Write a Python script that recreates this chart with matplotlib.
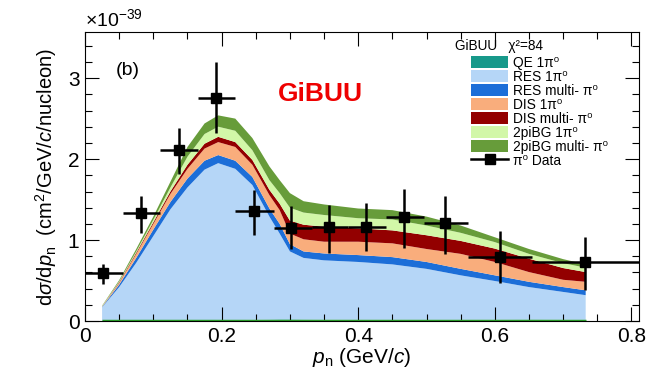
import numpy as np
import matplotlib
matplotlib.use("Agg")
import matplotlib.pyplot as plt
from matplotlib.patches import Patch
from matplotlib.lines import Line2D

plt.rcParams['font.family'] = ['Liberation Sans', 'DejaVu Sans']
plt.rcParams['mathtext.fontset'] = 'custom'
plt.rcParams['mathtext.rm'] = 'Liberation Sans'
plt.rcParams['mathtext.it'] = 'Liberation Sans:italic'
plt.rcParams['mathtext.bf'] = 'Liberation Sans:bold'

# GiBUU prediction, stacked by channel (x10^-39 cm2/GeV/c/nucleon)
pn = [0.025, 0.05, 0.075, 0.10, 0.125, 0.15, 0.175, 0.195, 0.22, 0.245, 0.27, 0.285,
      0.30, 0.32, 0.35, 0.40, 0.45, 0.50, 0.55, 0.60, 0.65, 0.70, 0.733]
qe_1pi = [0.005, 0.008, 0.010, 0.010, 0.012, 0.012, 0.012, 0.014, 0.014, 0.015, 0.018, 0.020,
          0.020, 0.018, 0.016, 0.015, 0.016, 0.015, 0.015, 0.016, 0.018, 0.016, 0.015]
res_1pi = [0.165, 0.412, 0.710, 1.040, 1.368, 1.638, 1.858, 1.936, 1.866, 1.665, 1.272, 1.060,
           0.840, 0.762, 0.734, 0.715, 0.684, 0.630, 0.550, 0.479, 0.402, 0.344, 0.305]
res_multi = [0.005, 0.030, 0.060, 0.080, 0.090, 0.110, 0.110, 0.100, 0.100, 0.100, 0.100, 0.120,
             0.090, 0.080, 0.085, 0.085, 0.090, 0.085, 0.080, 0.070, 0.065, 0.060, 0.060]
dis_1pi = [0.005, 0.020, 0.050, 0.070, 0.100, 0.120, 0.150, 0.160, 0.170, 0.150, 0.165, 0.170,
           0.130, 0.150, 0.145, 0.165, 0.170, 0.160, 0.185, 0.165, 0.120, 0.090, 0.105]
dis_multi = [0.000, 0.010, 0.015, 0.020, 0.030, 0.050, 0.060, 0.065, 0.060, 0.060, 0.065, 0.080,
             0.160, 0.180, 0.185, 0.165, 0.160, 0.170, 0.160, 0.165, 0.165, 0.145, 0.120]
bg_1pi = [0.005, 0.010, 0.015, 0.030, 0.050, 0.100, 0.120, 0.125, 0.140, 0.120, 0.120, 0.130,
          0.160, 0.150, 0.145, 0.125, 0.135, 0.120, 0.100, 0.080, 0.060, 0.060, 0.055]
bg_multi = [0.005, 0.015, 0.030, 0.040, 0.070, 0.120, 0.130, 0.140, 0.150, 0.150, 0.170, 0.160,
            0.180, 0.140, 0.130, 0.120, 0.115, 0.110, 0.090, 0.060, 0.060, 0.050, 0.040]

labels = ['QE 1π⁰', 'RES 1π⁰', 'RES multi- π⁰', 'DIS 1π⁰',
          'DIS multi- π⁰', '2piBG 1π⁰', '2piBG multi- π⁰']
colors = ['#17998a', '#b5d6f7', '#1c6ed8', '#f9ad7c', '#930000', '#d2f7a8', '#679c3a']

# pi0 data
data_x = [0.027, 0.082, 0.137, 0.192, 0.248, 0.302, 0.357, 0.412, 0.467, 0.527, 0.607, 0.732]
data_y = [0.59, 1.34, 2.11, 2.76, 1.36, 1.15, 1.16, 1.16, 1.28, 1.21, 0.79, 0.73]
data_hi = [0.71, 1.54, 2.39, 3.20, 1.62, 1.42, 1.43, 1.46, 1.63, 1.55, 1.11, 1.04]
data_lo = [0.455, 1.09, 1.815, 2.32, 1.06, 0.885, 0.84, 0.86, 0.90, 0.83, 0.47, 0.39]
bin_lo = [0.0, 0.055, 0.11, 0.165, 0.22, 0.276, 0.333, 0.385, 0.44, 0.496, 0.56, 0.655]
bin_hi = [0.055, 0.11, 0.165, 0.22, 0.276, 0.333, 0.385, 0.44, 0.496, 0.56, 0.655, 0.85]

fig = plt.figure(figsize=(6.54, 3.85), dpi=100)
ax = fig.add_axes([0.130, 0.166, 0.847, 0.751])

ax.stackplot(pn, qe_1pi, res_1pi, res_multi, dis_1pi, dis_multi, bg_1pi, bg_multi,
             colors=colors, linewidth=0)
ax.plot([pn[0], pn[-1]], [0.005, 0.005], color='#2ca02c', lw=2.5, solid_capstyle='butt')

x = np.array(data_x)
y = np.array(data_y)
xerr = [x - np.array(bin_lo), np.array(bin_hi) - x]
yerr = [y - np.array(data_lo), np.array(data_hi) - y]
ax.errorbar(x, y, xerr=xerr, yerr=yerr, fmt='s', color='k', ms=7, lw=1.8,
            capsize=0, zorder=5)

ax.set_xlim(0, 0.811)
ax.set_ylim(0, 3.57)
ax.set_xticks([0, 0.2, 0.4, 0.6, 0.8])
ax.set_xticklabels(['0', '0.2', '0.4', '0.6', '0.8'])
ax.set_xticks(np.arange(0, 0.81, 0.05), minor=True)
ax.set_yticks([0, 1, 2, 3])
ax.set_yticks(np.arange(0, 3.6, 0.2), minor=True)
ax.tick_params(which='both', direction='in', top=True, right=True, labelsize=15, width=0.8)
ax.tick_params(which='major', length=10, pad=4)
ax.tick_params(which='minor', length=5)

ax.set_xlabel('$p_{\\mathrm{n}}$ (GeV/$c$)', fontsize=15, labelpad=0)
ax.set_ylabel('d$\\sigma$/d$p_{\\mathrm{n}}$  (cm$^{2}$/GeV/$c$/nucleon)', fontsize=14.5, labelpad=6)
ax.text(0.0, 1.005, '×10$^{-39}$', transform=ax.transAxes, fontsize=14, ha='left', va='bottom')

ax.text(0.045, 3.1, '(b)', fontsize=14, ha='left', va='center')
ax.text(0.345, 2.80, 'GiBUU', fontsize=19, color='#ee0000', fontweight='bold',
        ha='center', va='center')

# legend: header line drawn separately so the swatches sit indented under it
ax.text(0.668, 0.950, 'GiBUU   χ²=84', transform=ax.transAxes, fontsize=9.8,
        ha='left', va='center')
handles = [Patch(facecolor=c, edgecolor='none') for c in colors]
handles.append(Line2D([], [], color='k', lw=1.8, marker='s', ms=7))
leg = ax.legend(handles, labels + ['π⁰ Data'],
                loc='upper left', bbox_to_anchor=(0.697, 0.918), frameon=False,
                fontsize=9.9, handlelength=2.7, handleheight=0.95,
                handletextpad=0.35, labelspacing=0.0, borderpad=0, borderaxespad=0)

fig.savefig('out.png', dpi=100)
